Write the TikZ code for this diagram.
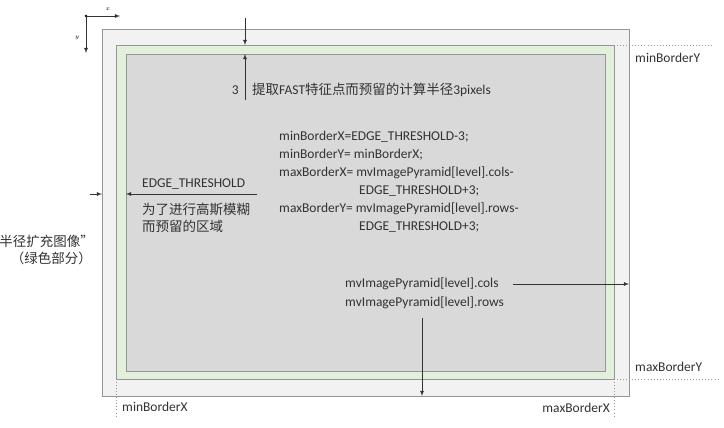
\documentclass[tikz,border=0pt]{standalone}
\usepackage{fontspec}
\setmainfont{Carlito}
\newfontfamily\cjk{Noto Sans CJK SC}
\usetikzlibrary{arrows,calc,positioning}
\definecolor{pagegray}{RGB}{242,242,242}
\definecolor{blurgreen}{RGB}{226,239,218}
\definecolor{fastgray}{RGB}{217,217,217}
\definecolor{edgegray}{RGB}{150,150,150}
\definecolor{txtgray}{RGB}{50,50,50}
\newcommand{\txtsize}{\fontsize{11.5}{14}\selectfont}

\begin{document}
\begin{tikzpicture}[x=0.03cm,y=-0.03cm]
\useasboundingbox (0,0) rectangle (724,428);
%styles
\tikzstyle{rectline}=[draw=edgegray,line width=0.8pt]
\tikzstyle{lbl}=[anchor=west,inner sep=0pt,text=txtgray,font=\txtsize]
\tikzstyle{arr}=[->,>=latex,line width=0.5pt,black!80]
\tikzstyle{guide}=[dotted,edgegray,line width=0.6pt]
%%%%%%%%%%%%%%%%%%%%%%%%%%%%%%%%%%%%%%%%%%%%%%%%%%%%%%%%%%%%%%%%%%%%%%%%
%corners
\coordinate (oTL) at (102,29);
\coordinate (oBR) at (629,396);
\coordinate (gTL) at (116,45);
\coordinate (gBR) at (614,379);
\coordinate (iTL) at (126,54);
\coordinate (iBR) at (605,371);

%image, green border, inner part
\draw[rectline,fill=pagegray] (oTL) rectangle (oBR);
\draw[rectline,fill=blurgreen] (gTL) rectangle (gBR);
\draw[rectline,fill=fastgray] (iTL) rectangle (iBR);

%axes
\coordinate (origin) at (86,16);
\coordinate (xend) at (120,16);
\coordinate (yend) at (86,53);
\fill[black] (origin) circle (1.3);
\draw[arr] (origin) -- (xend);
\draw[arr] (origin) -- (yend);
\node (xlbl) at (108,9) {\tiny $x$};
\node (ylbl) at (77,38) {\tiny $y$};

%FAST radius
\coordinate (fastTop) at (245,18);
\coordinate (fastBot) at (245,100);
\draw[arr] (fastTop) -- (fastTop |- gTL);
\draw[arr] (fastBot) -- (fastBot |- iTL);
\node[lbl,anchor=east] (three) at (239,90) {3};
\node[lbl] (fastTxt) at (252,90) {{\cjk 提取}FAST{\cjk 特征点而预留的计算半径}3pixels};

%formulas
\node[lbl] (fml1) at (279,137) {minBorderX=EDGE\_THRESHOLD-3;};
\node[lbl] (fml2) at (279,155) {minBorderY= minBorderX;};
\node[lbl] (fml3) at (279,173) {maxBorderX= mvImagePyramid[level].cols-};
\node[lbl] (fml3b) at (359,191) {EDGE\_THRESHOLD+3;};
\node[lbl] (fml4) at (279,209) {maxBorderY= mvImagePyramid[level].rows-};
\node[lbl] (fml4b) at (359,227) {EDGE\_THRESHOLD+3;};

%EDGE_THRESHOLD
\coordinate (edgeL) at (90,194);
\coordinate (edgeR) at (257,194);
\draw[arr] (edgeL) -- (edgeL -| oTL);
\draw[arr] (edgeR) -- (edgeR -| iTL);
\node[lbl] (edgeTxt) at (142,184) {EDGE\_THRESHOLD};
\node[lbl] (blur1) at (142,209) {\cjk 为了进行高斯模糊};
\node[lbl] (blur2) at (142,226) {\cjk 而预留的区域};
\node[lbl,anchor=east] (ext1) at (94,241) {\cjk 半径扩充图像”};
\node[lbl,anchor=east] (ext2) at (92,258) {\cjk （绿色部分）};

%cols and rows
\node[lbl] (colsTxt) at (345,284) {mvImagePyramid[level].cols};
\node[lbl] (rowsTxt) at (345,303) {mvImagePyramid[level].rows};
\coordinate (colsEnd) at (513,284);
\coordinate (rowsEnd) at (422,318);
\draw[arr] (colsEnd) -- (colsEnd -| oBR);
\draw[arr] (rowsEnd) -- (rowsEnd |- oBR);

%border guides
\coordinate (minYend) at (712,45);
\coordinate (maxYend) at (720,379);
\coordinate (minXend) at (116,416);
\coordinate (maxXend) at (614,416);
\draw[guide] (gTL -| gBR) -- (minYend);
\draw[guide] (gBR) -- (maxYend);
\draw[guide] (gTL |- gBR) -- (minXend);
\draw[guide] (gBR) -- (maxXend);
\node[lbl] (minY) at (635,58) {minBorderY};
\node[lbl] (maxY) at (635,367) {maxBorderY};
\node[lbl] (minX) at (122,407) {minBorderX};
\node[lbl,anchor=east] (maxX) at (610,408) {maxBorderX};

\end{tikzpicture}
\end{document}
